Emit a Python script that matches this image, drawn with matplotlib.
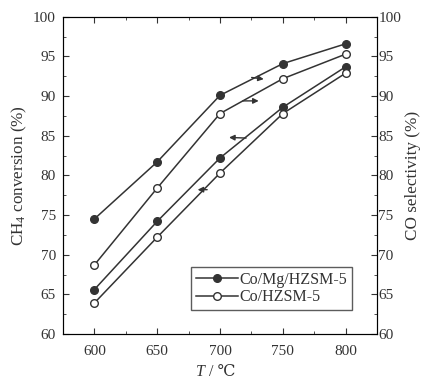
import matplotlib
matplotlib.use('Agg')
from matplotlib import pyplot as plt
from matplotlib.ticker import MultipleLocator

plt.rcParams['font.family'] = ['Liberation Serif', 'DejaVu Serif', 'DejaVu Sans']
plt.rcParams['mathtext.fontset'] = 'custom'
plt.rcParams['mathtext.rm'] = 'Liberation Serif'
plt.rcParams['mathtext.it'] = 'Liberation Serif:italic'

temps = [600, 650, 700, 750, 800]
# CO selectivity (right axis)
sel_comg = [74.5, 81.7, 90.1, 94.1, 96.6]
sel_co = [68.7, 78.4, 87.8, 92.2, 95.3]
# CH4 conversion (left axis)
conv_comg = [65.6, 74.2, 82.2, 88.6, 93.7]
conv_co = [63.9, 72.2, 80.3, 87.8, 92.9]

labels = ['Co/Mg/HZSM-5', 'Co/HZSM-5']
lc = '#333333'

fig = plt.figure(figsize=(4.28, 3.83), dpi=100)
ax = fig.add_axes([0.147, 0.128, 0.734, 0.828])
ax2 = ax.twinx()

ax.plot(temps, conv_comg, '-o', color=lc, lw=1.1, ms=5.5, mfc=lc, mec=lc, label=labels[0])
ax.plot(temps, conv_co, '-o', color=lc, lw=1.1, ms=5.5, mfc='white', mec=lc, label=labels[1])
ax2.plot(temps, sel_comg, '-o', color=lc, lw=1.1, ms=5.5, mfc=lc, mec=lc)
ax2.plot(temps, sel_co, '-o', color=lc, lw=1.1, ms=5.5, mfc='white', mec=lc)

for a in (ax, ax2):
	a.set_ylim(60, 100)
	a.yaxis.set_major_locator(MultipleLocator(5))
	a.yaxis.set_minor_locator(MultipleLocator(2.5))
	a.tick_params(which='both', direction='in', labelsize=11, colors=lc)
	a.tick_params(which='major', length=4)
	a.tick_params(which='minor', length=2)
ax.set_xlim(575, 825)
ax.xaxis.set_major_locator(MultipleLocator(50))
ax.xaxis.set_minor_locator(MultipleLocator(25))
ax.tick_params(which='both', top=True)
ax.tick_params(axis='x', pad=8)
ax.tick_params(axis='y', pad=5)
ax2.tick_params(axis='y', pad=1)
for s in ax.spines.values():
	s.set_color(lc)

# arrows pointing to the axis each curve belongs to
arr = dict(arrowstyle='-|>', color=lc, lw=1, mutation_scale=8)
ax.annotate('', xy=(737, 92.1), xytext=(723, 92.4), arrowprops=arr)
ax.annotate('', xy=(733, 89.4), xytext=(716, 89.4), arrowprops=arr)
ax.annotate('', xy=(705, 84.8), xytext=(723, 84.7), arrowprops=arr)
ax.annotate('', xy=(680, 78.2), xytext=(692, 78.2), arrowprops=arr)

xl = ax.set_xlabel(' / ℃', fontsize=11.5, labelpad=4, color=lc)
ax.annotate('T', xy=(0, 0.5), xycoords=xl, ha='right', va='center', fontsize=11.5, style='italic', color=lc)
ax.set_ylabel('CH$_4$ conversion (%)', fontsize=12.3, color=lc, labelpad=3)
ax2.set_ylabel('CO selectivity (%)', fontsize=12.3, color=lc, rotation=90, labelpad=3)

leg = ax.legend(loc='lower right', bbox_to_anchor=(0.92, 0.075), fontsize=11.5, frameon=True, fancybox=False,
	edgecolor=lc, handlelength=2.6, handletextpad=0.1, borderpad=0.3, labelspacing=0.1, borderaxespad=0)
leg.get_frame().set_linewidth(1)
for t in leg.get_texts():
	t.set_color(lc)

fig.savefig('out.png', dpi=100)
